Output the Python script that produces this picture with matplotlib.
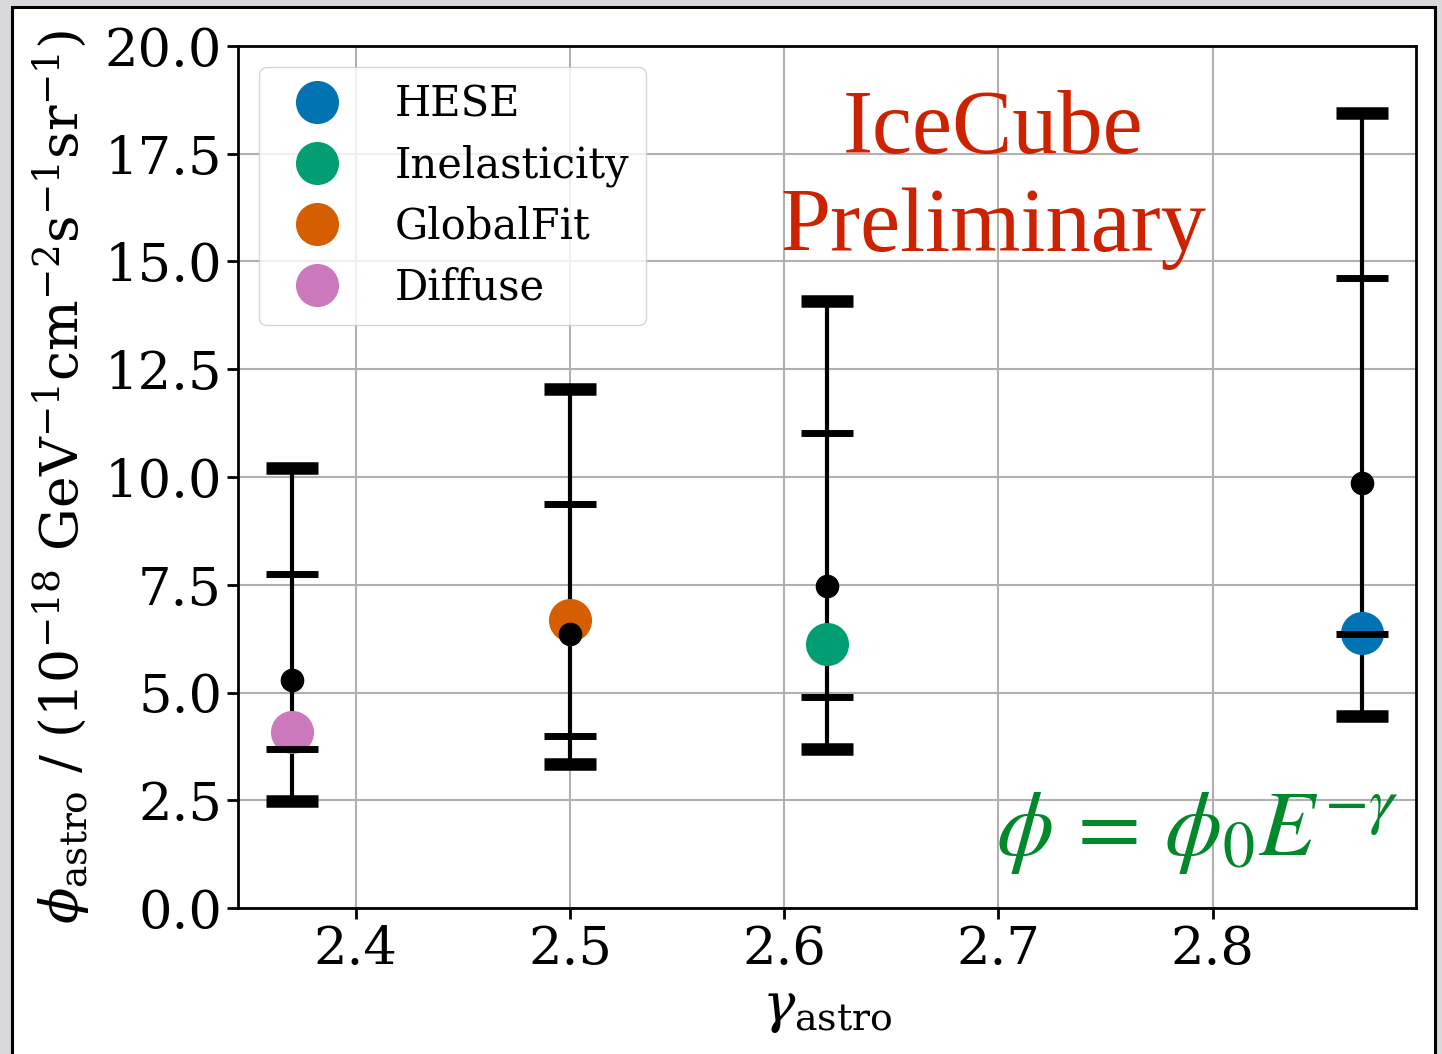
import matplotlib
matplotlib.use("Agg")
import matplotlib.pyplot as plt
from matplotlib.patches import Rectangle

plt.rcParams['font.family'] = ['DejaVu Serif']
plt.rcParams['mathtext.fontset'] = 'dejavuserif'

# black points: expectation with 1 and 2 sigma ranges
gamma = [2.37, 2.50, 2.62, 2.87]
phi_mid = [5.3, 6.35, 7.47, 9.85]
inner_lo = [3.68, 4.0, 4.9, 6.35]
inner_hi = [7.75, 9.37, 11.02, 14.62]
outer_lo = [2.48, 3.35, 3.68, 4.45]
outer_hi = [10.2, 12.05, 14.08, 18.45]

# measured fits
meas_names = ['HESE', 'Inelasticity', 'GlobalFit', 'Diffuse']
meas_gamma = [2.87, 2.62, 2.50, 2.37]
meas_phi = [6.38, 6.12, 6.68, 4.08]
meas_colors = ['#0173b2', '#029e73', '#d55e00', '#cc78bc']

fig = plt.figure(figsize=(14.42, 10.54), dpi=100)
fig.patch.set_facecolor('#d8d8dc')
fig.patches.append(Rectangle((12 / 1442, -0.05), 1423 / 1442, 1.05 - 7 / 1054,
                             transform=fig.transFigure, facecolor='white',
                             edgecolor='black', linewidth=2.2, zorder=-5))

ax = fig.add_axes([238 / 1442, 1 - 908 / 1054, 1178 / 1442, 862 / 1054])
ax.set_zorder(1)

ax.grid(True, color='#b0b0b0', linewidth=1.5, zorder=0)
ax.set_axisbelow(True)

lo2 = [m - l for m, l in zip(phi_mid, outer_lo)]
hi2 = [h - m for m, h in zip(phi_mid, outer_hi)]
lo1 = [m - l for m, l in zip(phi_mid, inner_lo)]
hi1 = [h - m for m, h in zip(phi_mid, inner_hi)]

# outer bars (line + thick caps)
ax.errorbar(gamma, phi_mid, yerr=[lo2, hi2], fmt='none', ecolor='black',
            elinewidth=3, capsize=19, capthick=9, zorder=2)

for g, p, c, n in zip(meas_gamma, meas_phi, meas_colors, meas_names):
    ax.plot(g, p, 'o', color=c, markersize=30, label=n, zorder=3, linestyle='none')

# inner caps and central points on top
ax.errorbar(gamma, phi_mid, yerr=[lo1, hi1], fmt='o', color='black', ecolor='black',
            markersize=16, elinewidth=0, capsize=19, capthick=5, zorder=4)

ax.set_ylim(0, 20)
ax.set_yticks([0, 2.5, 5, 7.5, 10, 12.5, 15, 17.5, 20])
ax.set_xticks([2.4, 2.5, 2.6, 2.7, 2.8])
ax.tick_params(labelsize=38, length=8, width=2)
for s in ax.spines.values():
    s.set_linewidth(2)

ax.set_xlabel(r'$\gamma_{\rm astro}$', fontsize=39, labelpad=6)
ax.set_ylabel(r'$\phi_{\rm astro}$ / $(10^{-18}\ {\rm GeV}^{-1}{\rm cm}^{-2}{\rm s}^{-1}{\rm sr}^{-1})$',
              fontsize=38.5, labelpad=8)

ax.legend(loc='upper left', fontsize=30, labelspacing=0.45, handletextpad=0.86,
          borderaxespad=0.5, framealpha=0.8)

ax.text(0.641, 0.845, 'IceCube\nPreliminary', transform=ax.transAxes,
        fontsize=65, color='#cc2200', family='Liberation Serif',
        ha='center', va='center', linespacing=1.24)

ax.text(0.985, 0.0615, r'$\phi\,=\,\phi_0 E^{-\gamma}$', transform=ax.transAxes,
        fontsize=66, color='#00882a', ha='right', va='baseline', math_fontfamily='stix')

fig.savefig('out.png', dpi=100, facecolor=fig.get_facecolor())
